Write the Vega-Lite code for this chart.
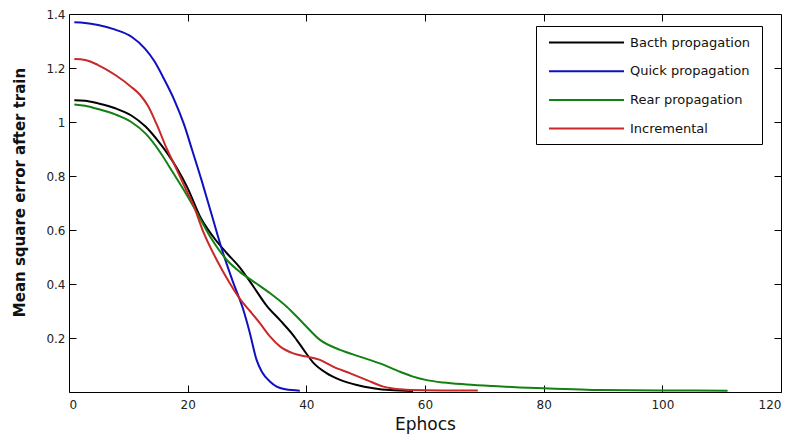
{
  "$schema": "https://vega.github.io/schema/vega-lite/v6.json",
  "width": 712,
  "height": 378,
  "autosize": {"type": "none"},
  "padding": {"left": 69, "top": 14, "right": 14, "bottom": 50},
  "background": "white",
  "config": {
    "font": "DejaVu Sans",
    "view": {"stroke": "#000000", "strokeWidth": 1},
    "axis": {
      "grid": false,
      "domain": false,
      "tickColor": "#000000",
      "tickSize": -7,
      "tickWidth": 1,
      "labelFont": "DejaVu Sans",
      "labelFontSize": 12,
      "labelColor": "#222222",
      "titleFont": "DejaVu Sans",
      "titleColor": "#111111"
    }
  },
  "data": {
    "values": [
      {"epoch": 0.9, "mse": 1.081, "method": "Bacth propagation"},
      {"epoch": 2.7, "mse": 1.079, "method": "Bacth propagation"},
      {"epoch": 4.9, "mse": 1.069, "method": "Bacth propagation"},
      {"epoch": 7.8, "mse": 1.051, "method": "Bacth propagation"},
      {"epoch": 10.5, "mse": 1.024, "method": "Bacth propagation"},
      {"epoch": 12.9, "mse": 0.983, "method": "Bacth propagation"},
      {"epoch": 15.0, "mse": 0.93, "method": "Bacth propagation"},
      {"epoch": 16.7, "mse": 0.88, "method": "Bacth propagation"},
      {"epoch": 18.3, "mse": 0.825, "method": "Bacth propagation"},
      {"epoch": 20.0, "mse": 0.755, "method": "Bacth propagation"},
      {"epoch": 22.1, "mse": 0.649, "method": "Bacth propagation"},
      {"epoch": 24.3, "mse": 0.575, "method": "Bacth propagation"},
      {"epoch": 26.6, "mse": 0.514, "method": "Bacth propagation"},
      {"epoch": 28.8, "mse": 0.461, "method": "Bacth propagation"},
      {"epoch": 31.1, "mse": 0.39, "method": "Bacth propagation"},
      {"epoch": 33.3, "mse": 0.32, "method": "Bacth propagation"},
      {"epoch": 35.6, "mse": 0.265, "method": "Bacth propagation"},
      {"epoch": 37.8, "mse": 0.21, "method": "Bacth propagation"},
      {"epoch": 39.5, "mse": 0.158, "method": "Bacth propagation"},
      {"epoch": 41.2, "mse": 0.108, "method": "Bacth propagation"},
      {"epoch": 43.4, "mse": 0.07, "method": "Bacth propagation"},
      {"epoch": 45.7, "mse": 0.045, "method": "Bacth propagation"},
      {"epoch": 48.5, "mse": 0.026, "method": "Bacth propagation"},
      {"epoch": 51.3, "mse": 0.014, "method": "Bacth propagation"},
      {"epoch": 54.1, "mse": 0.007, "method": "Bacth propagation"},
      {"epoch": 58.0, "mse": 0.004, "method": "Bacth propagation"},
      {"epoch": 0.9, "mse": 1.369, "method": "Quick propagation"},
      {"epoch": 2.7, "mse": 1.367, "method": "Quick propagation"},
      {"epoch": 4.9, "mse": 1.359, "method": "Quick propagation"},
      {"epoch": 7.8, "mse": 1.342, "method": "Quick propagation"},
      {"epoch": 10.6, "mse": 1.315, "method": "Quick propagation"},
      {"epoch": 12.8, "mse": 1.272, "method": "Quick propagation"},
      {"epoch": 14.4, "mse": 1.225, "method": "Quick propagation"},
      {"epoch": 16.0, "mse": 1.16, "method": "Quick propagation"},
      {"epoch": 17.7, "mse": 1.084, "method": "Quick propagation"},
      {"epoch": 19.4, "mse": 0.99, "method": "Quick propagation"},
      {"epoch": 20.7, "mse": 0.9, "method": "Quick propagation"},
      {"epoch": 22.4, "mse": 0.78, "method": "Quick propagation"},
      {"epoch": 24.0, "mse": 0.66, "method": "Quick propagation"},
      {"epoch": 25.8, "mse": 0.526, "method": "Quick propagation"},
      {"epoch": 27.6, "mse": 0.41, "method": "Quick propagation"},
      {"epoch": 29.3, "mse": 0.31, "method": "Quick propagation"},
      {"epoch": 30.5, "mse": 0.217, "method": "Quick propagation"},
      {"epoch": 31.6, "mse": 0.12, "method": "Quick propagation"},
      {"epoch": 32.5, "mse": 0.075, "method": "Quick propagation"},
      {"epoch": 33.9, "mse": 0.038, "method": "Quick propagation"},
      {"epoch": 35.0, "mse": 0.02, "method": "Quick propagation"},
      {"epoch": 36.5, "mse": 0.01, "method": "Quick propagation"},
      {"epoch": 38.9, "mse": 0.005, "method": "Quick propagation"},
      {"epoch": 0.9, "mse": 1.065, "method": "Rear propagation"},
      {"epoch": 2.7, "mse": 1.06, "method": "Rear propagation"},
      {"epoch": 4.9, "mse": 1.048, "method": "Rear propagation"},
      {"epoch": 7.8, "mse": 1.028, "method": "Rear propagation"},
      {"epoch": 10.5, "mse": 1.0, "method": "Rear propagation"},
      {"epoch": 13.0, "mse": 0.955, "method": "Rear propagation"},
      {"epoch": 15.3, "mse": 0.89, "method": "Rear propagation"},
      {"epoch": 17.6, "mse": 0.81, "method": "Rear propagation"},
      {"epoch": 19.3, "mse": 0.75, "method": "Rear propagation"},
      {"epoch": 21.0, "mse": 0.686, "method": "Rear propagation"},
      {"epoch": 23.8, "mse": 0.575, "method": "Rear propagation"},
      {"epoch": 26.6, "mse": 0.489, "method": "Rear propagation"},
      {"epoch": 28.8, "mse": 0.445, "method": "Rear propagation"},
      {"epoch": 31.1, "mse": 0.409, "method": "Rear propagation"},
      {"epoch": 33.9, "mse": 0.366, "method": "Rear propagation"},
      {"epoch": 36.7, "mse": 0.316, "method": "Rear propagation"},
      {"epoch": 39.5, "mse": 0.254, "method": "Rear propagation"},
      {"epoch": 42.3, "mse": 0.193, "method": "Rear propagation"},
      {"epoch": 45.7, "mse": 0.156, "method": "Rear propagation"},
      {"epoch": 49.0, "mse": 0.131, "method": "Rear propagation"},
      {"epoch": 52.4, "mse": 0.106, "method": "Rear propagation"},
      {"epoch": 55.8, "mse": 0.075, "method": "Rear propagation"},
      {"epoch": 58.0, "mse": 0.057, "method": "Rear propagation"},
      {"epoch": 60.3, "mse": 0.044, "method": "Rear propagation"},
      {"epoch": 63.1, "mse": 0.035, "method": "Rear propagation"},
      {"epoch": 67.0, "mse": 0.028, "method": "Rear propagation"},
      {"epoch": 71.5, "mse": 0.022, "method": "Rear propagation"},
      {"epoch": 76.0, "mse": 0.017, "method": "Rear propagation"},
      {"epoch": 80.0, "mse": 0.014, "method": "Rear propagation"},
      {"epoch": 85.0, "mse": 0.01, "method": "Rear propagation"},
      {"epoch": 89.5, "mse": 0.007, "method": "Rear propagation"},
      {"epoch": 100.0, "mse": 0.006, "method": "Rear propagation"},
      {"epoch": 111.0, "mse": 0.005, "method": "Rear propagation"},
      {"epoch": 0.9, "mse": 1.233, "method": "Incremental"},
      {"epoch": 2.7, "mse": 1.23, "method": "Incremental"},
      {"epoch": 4.9, "mse": 1.211, "method": "Incremental"},
      {"epoch": 7.8, "mse": 1.174, "method": "Incremental"},
      {"epoch": 10.5, "mse": 1.13, "method": "Incremental"},
      {"epoch": 12.0, "mse": 1.1, "method": "Incremental"},
      {"epoch": 13.3, "mse": 1.06, "method": "Incremental"},
      {"epoch": 14.8, "mse": 0.99, "method": "Incremental"},
      {"epoch": 16.5, "mse": 0.9, "method": "Incremental"},
      {"epoch": 18.2, "mse": 0.822, "method": "Incremental"},
      {"epoch": 19.5, "mse": 0.76, "method": "Incremental"},
      {"epoch": 21.0, "mse": 0.69, "method": "Incremental"},
      {"epoch": 22.6, "mse": 0.595, "method": "Incremental"},
      {"epoch": 24.9, "mse": 0.489, "method": "Incremental"},
      {"epoch": 27.1, "mse": 0.403, "method": "Incremental"},
      {"epoch": 28.8, "mse": 0.345, "method": "Incremental"},
      {"epoch": 30.5, "mse": 0.3, "method": "Incremental"},
      {"epoch": 32.2, "mse": 0.254, "method": "Incremental"},
      {"epoch": 33.9, "mse": 0.205, "method": "Incremental"},
      {"epoch": 35.6, "mse": 0.168, "method": "Incremental"},
      {"epoch": 37.8, "mse": 0.143, "method": "Incremental"},
      {"epoch": 40.1, "mse": 0.131, "method": "Incremental"},
      {"epoch": 42.3, "mse": 0.119, "method": "Incremental"},
      {"epoch": 44.5, "mse": 0.094, "method": "Incremental"},
      {"epoch": 47.4, "mse": 0.069, "method": "Incremental"},
      {"epoch": 50.2, "mse": 0.044, "method": "Incremental"},
      {"epoch": 53.0, "mse": 0.02, "method": "Incremental"},
      {"epoch": 55.8, "mse": 0.01, "method": "Incremental"},
      {"epoch": 57.5, "mse": 0.007, "method": "Incremental"},
      {"epoch": 63.0, "mse": 0.006, "method": "Incremental"},
      {"epoch": 68.9, "mse": 0.006, "method": "Incremental"}
    ]
  },
  "layer": [
    {
      "mark": {"type": "line", "strokeWidth": 2, "interpolate": "monotone"},
      "encoding": {
        "x": {
          "field": "epoch", "type": "quantitative",
          "scale": {"domain": [0, 120], "nice": false, "zero": false},
          "axis": {"values": [0, 20, 40, 60, 80, 100, 120], "title": "Ephocs", "titleFontSize": 17, "titleFontWeight": "normal", "labelPadding": 14, "titlePadding": 6}
        },
        "y": {
          "field": "mse", "type": "quantitative",
          "scale": {"domain": [0, 1.4], "nice": false, "zero": false},
          "axis": {"values": [0.2, 0.4, 0.6, 0.8, 1.0, 1.2, 1.4], "format": "~g", "title": "Mean square error after train", "titleFontSize": 15, "titleFontWeight": "bold", "labelPadding": 11, "titleX": -49.5, "titleY": 178, "titleBaseline": "middle", "titleAngle": -90, "titleAlign": "center"}
        },
        "color": {
          "field": "method", "type": "nominal",
          "sort": ["Bacth propagation", "Quick propagation", "Rear propagation", "Incremental"],
          "scale": {
            "domain": ["Bacth propagation", "Quick propagation", "Rear propagation", "Incremental"],
            "range": ["#000000", "#1010c0", "#128012", "#c82828"]
          },
          "legend": {
            "title": " ",
            "titleOrient": "right",
            "titlePadding": 4,
            "titleFontSize": 12,
            "orient": "none",
            "legendX": 467,
            "legendY": 12,
            "symbolType": "M-5,0H5",
            "symbolSize": 225,
            "symbolStrokeWidth": 2,
            "symbolOffset": 34,
            "labelOffset": 35,
            "labelFontSize": 13,
            "labelFont": "DejaVu Sans",
            "labelColor": "#111111",
            "rowPadding": 12.7,
            "padding": 8,
            "strokeColor": "#000000",
            "fillColor": "#ffffff"
          }
        }
      }
    },
    {
      "mark": {"type": "line", "opacity": 0},
      "encoding": {
        "x": {"field": "epoch", "type": "quantitative", "axis": {"orient": "top", "values": [20, 40, 60, 80, 100], "labels": false, "title": null}},
        "y": {"field": "mse", "type": "quantitative", "axis": {"orient": "right", "values": [0.2, 0.4, 0.6, 0.8, 1.0, 1.2], "labels": false, "title": null}}
      }
    }
  ],
  "resolve": {"axis": {"x": "independent", "y": "independent"}}
}
